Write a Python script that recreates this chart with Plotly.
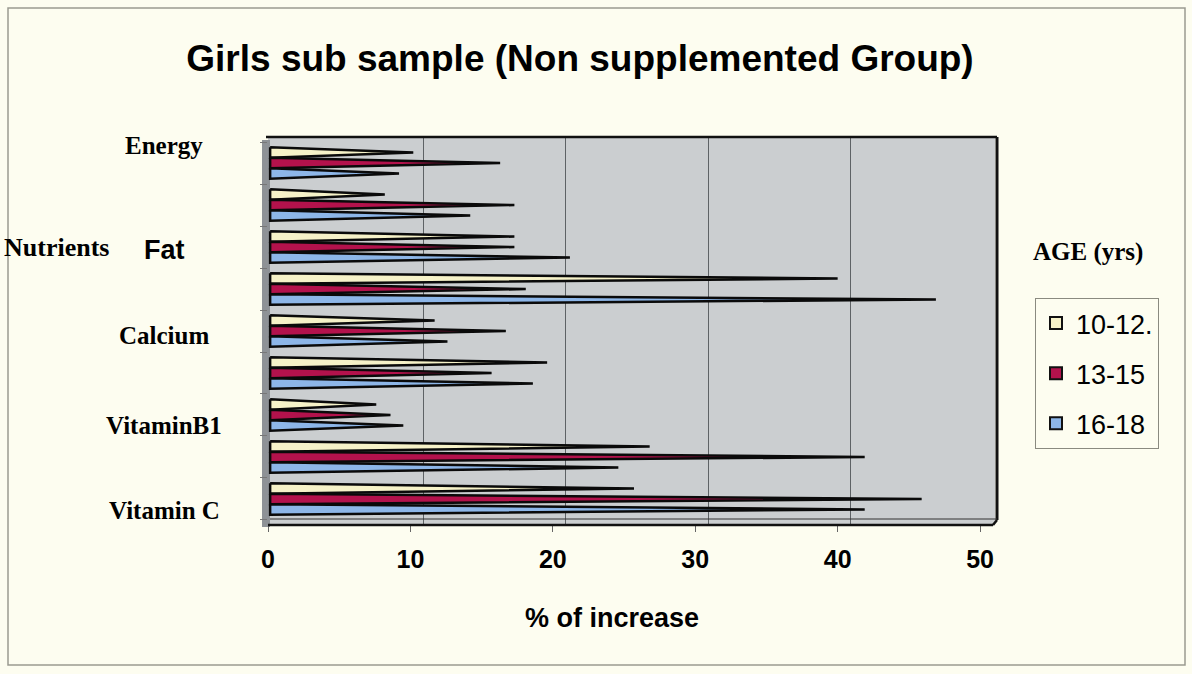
import plotly.graph_objects as go

# ---- data ----
cat_index = [0, 1, 2, 3, 4, 5, 6, 7, 8]          # 9 nutrient bands, top to bottom
label_text = ["Energy", "Fat", "Calcium", "VitaminB1", "Vitamin C"]  # shown labels (every other band)
series_names = ["10-12.", "13-15", "16-18"]
age_10_12 = [10.2, 8.2, 17.3, 40.0, 11.7, 19.6, 7.6, 26.8, 25.7]
age_13_15 = [16.3, 17.3, 17.3, 18.1, 16.7, 15.7, 8.6, 41.9, 45.9]
age_16_18 = [9.2, 14.2, 21.2, 46.9, 12.6, 18.6, 9.5, 24.6, 41.9]
x_ticks = [0, 10, 20, 30, 40, 50]

series_values = [age_10_12, age_13_15, age_16_18]
colors = ["#F6F2C8", "#B3124C", "#8DB6E8"]
offsets = [-0.25, 0.0, 0.25]
half_h = 0.125

W, H = 1192, 674
L, R, T, B = 268, 995, 137, 525
pw, ph = R - L, B - T

def px_x(px):
    return (px - L) / pw

def px_y(py):
    return (B - py) / ph

fig = go.Figure()

# spike (cone) bars drawn as filled triangles in data coordinates
for name, vals, col, off in zip(series_names, series_values, colors, offsets):
    xs, ys = [], []
    for c, v in zip(cat_index, vals):
        yc = c + off
        xs += [0.15, v, 0.15, 0.15, None]
        ys += [yc - half_h, yc, yc + half_h, yc - half_h, None]
    fig.add_trace(go.Scatter(
        x=xs, y=ys, mode="lines", fill="toself", fillcolor=col,
        line=dict(color="#0A0A0A", width=2.5), showlegend=False, hoverinfo="skip"))

# legend entries
for i, (name, col) in enumerate(zip(series_names, colors)):
    fig.add_trace(go.Bar(x=[None], y=[None], name=name, orientation="h",
                         marker=dict(color=col, line=dict(color="#111111", width=2)),
                         legendgroup=f"g{i}"))

# invisible trace to drive the back-wall gridlines
fig.add_trace(go.Scatter(x=[0], y=[0], xaxis="x2", mode="markers",
                         marker=dict(opacity=0), showlegend=False, hoverinfo="skip"))

x_scale = pw / 51.05
back_shift = 13 / x_scale

fig.update_layout(
    width=W, height=H,
    margin=dict(l=L, r=W - R, t=T, b=H - B),
    paper_bgcolor="#FDFDF0",
    plot_bgcolor="#CBCED0",
    title=dict(text="<b>Girls sub sample (Non supplemented Group)</b>",
               x=580 / W, xanchor="center", y=1 - 58 / H, yanchor="middle",
               font=dict(family="Liberation Sans, Arial", size=37, color="#000")),
    xaxis=dict(range=[0, 51.05], tickvals=x_ticks, ticktext=[f"<b>{t}</b>" for t in x_ticks],
               showgrid=False, zeroline=False, ticks="outside", ticklen=6, tickcolor="#666",
               tickfont=dict(family="Liberation Sans, Arial", size=25, color="#000"),
               ticklabelstandoff=6, showline=False),
    xaxis2=dict(overlaying="x", range=[-back_shift, 51.05 - back_shift], tickvals=[10, 20, 30, 40],
                showgrid=True, gridcolor="#5E6265", gridwidth=1, showticklabels=False,
                zeroline=False, ticks=""),
    yaxis=dict(range=[8.62, -0.62], tickvals=[c - 0.5 for c in cat_index] + [8.5],
               ticktext=[""] * 10, ticks="outside", ticklen=7, tickcolor="#777",
               showgrid=False, zeroline=False, showline=False),
    legend=dict(x=px_x(1035), y=px_y(298), xanchor="left", yanchor="top",
                bgcolor="#FDFDF0", bordercolor="#8A8A80", borderwidth=1,
                font=dict(family="Liberation Sans, Arial", size=27, color="#000"),
                tracegroupgap=12, itemsizing="constant"),
    showlegend=True,
)

# frame of the 3-D box
shapes = [
    dict(type="rect", xref="paper", yref="paper", x0=px_x(262), x1=px_x(270), y0=px_y(527), y1=px_y(140),
         fillcolor="#8E9296", line=dict(width=0), layer="below"),
    dict(type="line", xref="paper", yref="paper", x0=px_x(266), x1=px_x(997), y0=px_y(137), y1=px_y(137),
         line=dict(color="#111", width=2.5)),
    dict(type="line", xref="paper", yref="paper", x0=px_x(997), x1=px_x(997), y0=px_y(137), y1=px_y(520),
         line=dict(color="#111", width=3)),
    dict(type="line", xref="paper", yref="paper", x0=px_x(268), x1=px_x(993), y0=px_y(525), y1=px_y(525),
         line=dict(color="#111", width=2.5)),
    dict(type="line", xref="paper", yref="paper", x0=px_x(993), x1=px_x(997), y0=px_y(525), y1=px_y(520),
         line=dict(color="#111", width=2.5)),
    dict(type="line", xref="paper", yref="paper", x0=px_x(270), x1=px_x(997), y0=px_y(519), y1=px_y(519),
         line=dict(color="#333", width=1)),
    # outer page frame
    dict(type="rect", xref="paper", yref="paper", x0=px_x(8), x1=px_x(1185), y0=px_y(665), y1=px_y(8),
         line=dict(color="#9A9A90", width=1.5), fillcolor="rgba(0,0,0,0)", layer="below"),
]
fig.update_layout(shapes=shapes)

annotations = []
label_py = [145, 250, 335, 425, 510]
for txt, py in zip(label_text, label_py):
    if txt == "Fat":
        fnt = dict(family="Liberation Sans, Arial", size=27, color="#000")
    else:
        fnt = dict(family="Liberation Serif, Times New Roman", size=25, color="#000")
    annotations.append(dict(text=f"<b>{txt}</b>", xref="paper", yref="paper",
                            x=px_x(164), y=px_y(py), xanchor="center", yanchor="middle",
                            showarrow=False, font=fnt))
annotations.append(dict(text="<b>Nutrients</b>", xref="paper", yref="paper",
                        x=px_x(2), y=px_y(247), xanchor="left", yanchor="middle", showarrow=False,
                        font=dict(family="Liberation Serif, Times New Roman", size=26, color="#000")))
annotations.append(dict(text="<b>AGE (yrs)</b>", xref="paper", yref="paper",
                        x=px_x(1088), y=px_y(252), xanchor="center", yanchor="middle", showarrow=False,
                        font=dict(family="Liberation Serif, Times New Roman", size=25, color="#000")))
annotations.append(dict(text="<b>% of increase</b>", xref="paper", yref="paper",
                        x=px_x(612), y=px_y(618), xanchor="center", yanchor="middle", showarrow=False,
                        font=dict(family="Liberation Sans, Arial", size=27, color="#000")))
fig.update_layout(annotations=annotations)

fig.write_html("out.html")
